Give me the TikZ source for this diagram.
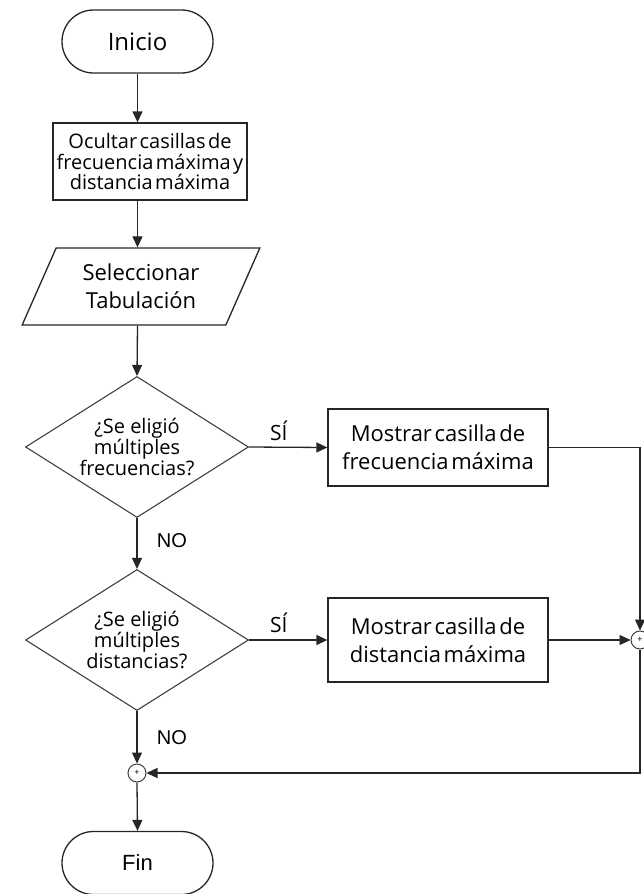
\documentclass[tikz,border=0pt]{standalone}
\usepackage{fontspec}
\setmainfont{Open Sans}
\newfontfamily\arialfont{Liberation Sans}
\usetikzlibrary{shapes.geometric,shapes.misc,arrows.meta}

\begin{document}
\begin{tikzpicture}[x=1pt,y=-1pt,
  line width=1.3pt,
  every node/.style={text=black},
  terminal/.style={rounded rectangle, draw=black!85, minimum width=151pt, minimum height=63pt, inner sep=0pt},
  process/.style={rectangle, draw=black!85, inner sep=0pt, align=center},
  decision/.style={diamond, shape aspect=1.6, draw=black!75, line width=1.1pt, inner sep=0pt,
    minimum width=223pt, minimum height=141pt, align=center},
  io/.style={trapezium, trapezium left angle=62.5, trapezium right angle=117.5, trapezium stretches=true,
    draw=black!85, minimum width=238pt, minimum height=77pt, inner sep=0pt, align=center},
  junction/.style={circle, draw=black!75, line width=1pt, inner sep=0pt, minimum size=18pt},
  flow/.style={draw=black!85, -{Triangle[length=11pt,width=10pt]}},
  yes/.style={font=\fontsize{21}{21}\selectfont},
  no/.style={font=\arialfont\fontsize{20}{20}\selectfont},
  tight/.style={execute at begin node={\spaceskip=0.12em}}
]
\useasboundingbox (0,0) rectangle (643,894);

% blocks of the flow
\node[terminal, font=\fontsize{24}{24}\selectfont] (inicio) at (137.5,41.5) {Inicio};
\node[process, tight, minimum width=194pt, minimum height=77pt, font=\fontsize{20}{20.5}\selectfont]
  (oculta) at (150,161.5) {Ocultar casillas de\\frecuencia máxima y\\distancia máxima};
\node[io, font=\fontsize{22}{28}\selectfont] (tab) at (141,286.5) {Seleccionar\\Tabulación};
\node[decision, font=\fontsize{20}{20}\selectfont] (d1) at (137,447) {¿Se eligió\\múltiples\\frecuencias?};
\node[process, tight, minimum width=220pt, minimum height=77pt, font=\fontsize{22}{28}\selectfont]
  (box1) at (438,447.5) {Mostrar casilla de\\frecuencia máxima};
\node[decision, font=\fontsize{20}{21}\selectfont] (d2) at (137,640) {¿Se eligió\\múltiples\\distancias?};
\node[process, tight, minimum width=220pt, minimum height=84pt, font=\fontsize{22}{28}\selectfont]
  (box2) at (438,640) {Mostrar casilla de\\distancia máxima};
\node[junction, font=\fontsize{9}{9}\selectfont] (j1) at (640,640) {+};
\node[junction, font=\fontsize{9}{9}\selectfont] (j2) at (137,773) {+};
\node[terminal, font=\arialfont\fontsize{22}{22}\selectfont] (fin) at (137.5,863) {Fin};

% connectors
\draw[flow] (inicio.south) -- (inicio.south |- oculta.north);
\draw[flow] (inicio.south |- oculta.south) -- (inicio.south |- tab.north);
\draw[flow] (inicio.south |- tab.south) -- (d1.north);
\draw[flow] (d1.east) -- (box1.west) node[pos=0.38, above=3pt, yes] {SÍ};
\draw[flow] (d1.south) -- (d2.north) node[pos=0.45, right=16pt, no] {NO};
\draw[flow] (d2.east) -- (box2.west) node[pos=0.38, above=3pt, yes] {SÍ};
\draw[flow] (box1.east) -| (j1.north);
\draw[flow] (box2.east) -- (j1.west);
\draw[flow] (d2.south) -- (j2.north) node[pos=0.5, right=16pt, no] {NO};
\draw[flow] (j1.south) |- (j2.east);
\draw[flow] (j2.south) -- (fin.north);
\end{tikzpicture}
\end{document}
